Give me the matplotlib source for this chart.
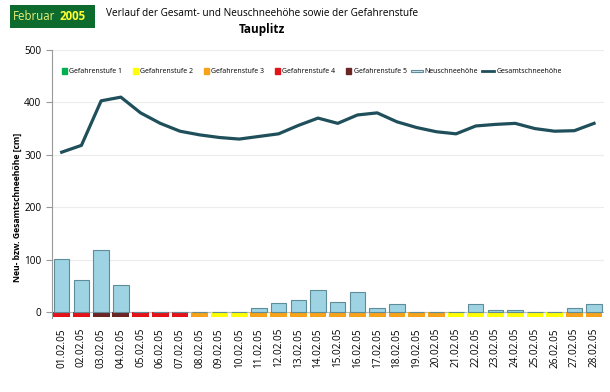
import matplotlib.pyplot as plt
import numpy as np
from matplotlib.patches import Patch, Rectangle
from matplotlib.lines import Line2D
from matplotlib.legend_handler import HandlerPatch

plt.rcParams["font.family"] = ["Open Sans", "DejaVu Sans"]

dates = [f"{d:02d}.02.05" for d in range(1, 29)]
gesamt = [305, 318, 403, 410, 380, 360, 345, 338, 333, 330, 335, 340, 356, 370,
          360, 376, 380, 363, 352, 344, 340, 355, 358, 360, 350, 345, 346, 360]
neuschnee = [102, 62, 118, 52, 0, 0, 0, 0, 0, 0, 8, 18, 23, 42,
             20, 39, 8, 15, 0, 0, 0, 15, 3, 3, 0, 0, 8, 15]
stufe = [4, 4, 5, 5, 4, 4, 4, 3, 2, 2, 3, 3, 3, 3,
         3, 3, 3, 3, 3, 3, 2, 2, 2, 2, 2, 2, 3, 3]

stufe_farben = {1: "#00b050", 2: "#ffff00", 3: "#f7a21b", 4: "#e2141a", 5: "#6b2525"}
stufe_namen = ["Gefahrenstufe 1", "Gefahrenstufe 2", "Gefahrenstufe 3",
               "Gefahrenstufe 4", "Gefahrenstufe 5"]


def quadrat(legend, orig_handle, xdescent, ydescent, width, height, fontsize):
    s = height * 1.1
    return Rectangle((-xdescent + width - s, -ydescent + (height - s) / 2), s, s)


def flach(legend, orig_handle, xdescent, ydescent, width, height, fontsize):
    h = height * 0.45
    return Rectangle((-xdescent, -ydescent + (height - h) / 2), width, h)


fig = plt.figure(figsize=(6.1, 3.92), dpi=100)
ax = fig.add_axes([0.085, 0.188, 0.905, 0.6845])

x = np.arange(len(dates))

# Gefahrenstufe als Streifen unter der Nulllinie
ax.bar(x, [-9] * len(x), width=0.85, color=[stufe_farben[s] for s in stufe],
       zorder=2)

# Neuschnee
ax.bar(x, neuschnee, width=0.78, color="#9dd3e3", edgecolor="#5f8c99",
       linewidth=0.8, zorder=3)

# Gesamtschneehöhe
ax.plot(x, gesamt, color="#1f4f5a", linewidth=2.3, zorder=4)

ax.set_xlim(-0.5, len(x) - 0.5)
ax.set_ylim(-12, 500)
ax.set_yticks(range(0, 501, 100))
ax.yaxis.grid(True, color="#ececec", linewidth=0.8)
ax.set_axisbelow(True)
ax.axhline(0, color="#bbbbbb", linewidth=0.8, zorder=1)

ax.set_xticks(x)
ax.set_xticklabels(dates, rotation=90, fontsize=7.2)
ax.tick_params(axis="x", length=0, pad=7)
ax.tick_params(axis="y", labelsize=7.2, length=4, color="#999999")
for side in ["top", "right", "bottom"]:
    ax.spines[side].set_visible(False)
ax.spines["left"].set_color("#999999")

fig.text(17 / 610, 1 - 207 / 392, "Neu- bzw. Gesamtschneehöhe [cm]", rotation=90,
         ha="center", va="center", fontsize=6.2, fontweight="bold")

stufe_handles = [Patch(color=stufe_farben[i + 1]) for i in range(5)]
neu_handle = Patch(facecolor="#cfe9f1", edgecolor="#5f8c99", linewidth=0.8)
gesamt_handle = Line2D([], [], color="#1f4f5a", linewidth=2.0)
handles = stufe_handles + [neu_handle, gesamt_handle]
labels = stufe_namen + ["Neuschneehöhe", "Gesamtschneehöhe"]
hmap = {h: HandlerPatch(patch_func=quadrat) for h in stufe_handles}
hmap[neu_handle] = HandlerPatch(patch_func=flach)
ax.legend(handles, labels, loc="center left", bbox_to_anchor=(-0.005, 0.918),
          ncol=7, fontsize=5.0, frameon=False, handlelength=1.7,
          handletextpad=0.3, columnspacing=0.6, handler_map=hmap)

fig.text(262 / 610, 1 - 13 / 392,
         "Verlauf der Gesamt- und Neuschneehöhe sowie der Gefahrenstufe",
         ha="center", va="center", fontsize=7.2)
fig.text(262 / 610, 1 - 30 / 392, "Tauplitz", ha="center", va="center",
         fontsize=8.5, fontweight="bold")

# Kopfbox Februar 2005
fig.patches.append(Rectangle((10 / 610, 1 - 28 / 392), 85 / 610, 23 / 392,
                             transform=fig.transFigure, facecolor="#0e6b2e",
                             edgecolor="none"))
fig.text(13 / 610, 1 - 16.5 / 392, "Februar", ha="left", va="center",
         fontsize=8.3, color="#e6f07a")
fig.text(60 / 610, 1 - 16.5 / 392, "2005", ha="left", va="center",
         fontsize=8.3, color="#ffff33", fontweight="bold")

fig.savefig("out.png", dpi=100)
